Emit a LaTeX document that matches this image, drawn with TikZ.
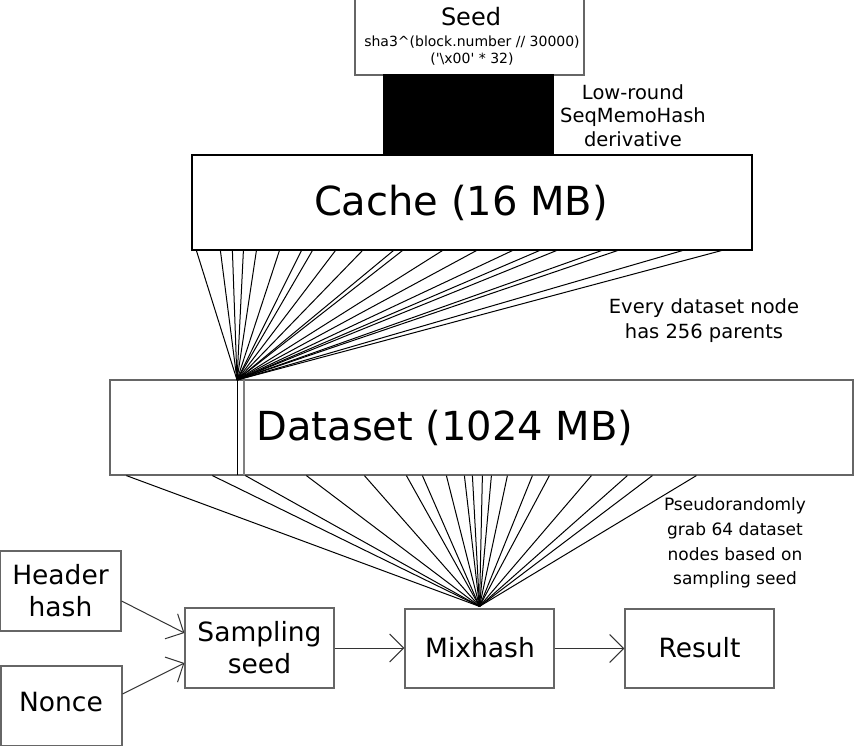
\documentclass[tikz,border=0pt]{standalone}
\usepackage{fontspec}
\setmainfont{DejaVu Sans}
\usetikzlibrary{arrows.meta}
\begin{document}
\begin{tikzpicture}[x=1pt,y=-1pt,
  box/.style={draw=black!60, line width=1.2pt, fill=white, inner sep=0pt},
  boxtext/.style={font=\fontsize{26.5}{32}\selectfont, align=center, inner sep=0pt},
  bigtext/.style={font=\fontsize{40}{46}\selectfont, inner sep=0pt},
  note/.style={font=\fontsize{19.5}{24}\selectfont, align=center, inner sep=0pt},
  fan/.style={draw=black, line width=1pt},
  arr/.style={draw=black!80, line width=1pt, -{Straight Barb[length=14pt, width=28pt, line width=1pt]}}]
\useasboundingbox (0,0) rectangle (854,746);

% fans (drawn first, boxes on top)
\node[box, minimum width=560pt, minimum height=95pt, draw=black] (cache) at (472,202.5) {};
\node[box, minimum width=743pt, minimum height=95pt] (dataset) at (481.5,427.5) {};
\node[box, minimum width=149pt, minimum height=79pt] (mix) at (479.5,648.5) {};

\coordinate (apexA) at (237,380);
\foreach \x in {5,29,41,52,65,88,110,121,144,171,202,211,251,285,321,348,365,410,426,491,530}
  \draw[fan] ([xshift=\x pt]cache.south west) -- (apexA);

\coordinate (apexB) at ([yshift=2pt]mix.north);
\foreach \x in {17,103,136,197,255,297,313,337,355,363,373,382,398,423,440,482,518,543,587}
  \draw[fan] ([xshift=\x pt]dataset.south west) -- (apexB);

% dataset strip
\coordinate (s1t) at (237,380); \coordinate (s1b) at (237,475);
\coordinate (s2t) at (244,380); \coordinate (s2b) at (244,475);
\draw[black, line width=1pt] (s1t) -- (s1b);
\draw[black!50, line width=1.4pt] (s2t) -- (s2b);

% seed and derivative block
\node[box, minimum width=229pt, minimum height=76pt] (seed) at (469.5,37) {};
\node[font=\fontsize{24}{28}\selectfont, inner sep=0pt] (seedt) at (471,17) {Seed};
\node[font=\fontsize{14}{16}\selectfont, inner sep=0pt] (seeds1) at (472,42) {sha3\textasciicircum(block.number // 30000)};
\node[font=\fontsize{14}{16}\selectfont, inner sep=0pt] (seeds2) at (472,59) {(\textquotesingle\textbackslash x00\textquotesingle{} * 32)};
\node[fill=black, draw=black, inner sep=0pt, minimum width=170pt, minimum height=81pt] (deriv) at (468,114.5) {};

\node[bigtext] (cachet) at (461,203) {Cache (16 MB)};
\node[bigtext] (datasett) at (445,428) {Dataset (1024 MB)};

% notes
\node[note, font=\fontsize{19.5}{23.5}\selectfont] (n1) at (633,115.5) {Low-round\\SeqMemoHash\\derivative};
\node[note, font=\fontsize{19.5}{25}\selectfont] (n2) at (704,320.5) {Every dataset node\\has 256 parents};
\node[note, font=\fontsize{17}{24.7}\selectfont] (n3) at (735,543) {Pseudorandomly\\grab 64 dataset\\nodes based on\\sampling seed};

% bottom boxes
\node[box, minimum width=121pt, minimum height=80pt] (hh) at (60.5,591) {};
\node[boxtext] (hht) at (60.5,591) {Header\\hash};
\node[box, minimum width=121pt, minimum height=80pt] (nonce) at (61.5,706) {};
\node[boxtext] (noncet) at (61,702) {Nonce};
\node[box, minimum width=149pt, minimum height=80pt] (ss) at (259.5,648) {};
\node[boxtext] (sst) at (259.5,648) {Sampling\\seed};
\node[boxtext] (mixt) at (480,648) {Mixhash};
\node[box, minimum width=149pt, minimum height=79pt] (res) at (699.5,648.5) {};
\node[boxtext] (rest) at (699.5,648) {Result};

% arrows
\draw[arr] ([yshift=-10pt]hh.east) -- ([yshift=15pt]ss.west);
\draw[arr] ([yshift=12pt]nonce.east) -- ([yshift=-15pt]ss.west);
\draw[arr] (ss.east) -- (ss.east -| mix.west);
\draw[arr] (mix.east) -- (mix.east -| res.west);
\end{tikzpicture}
\end{document}
